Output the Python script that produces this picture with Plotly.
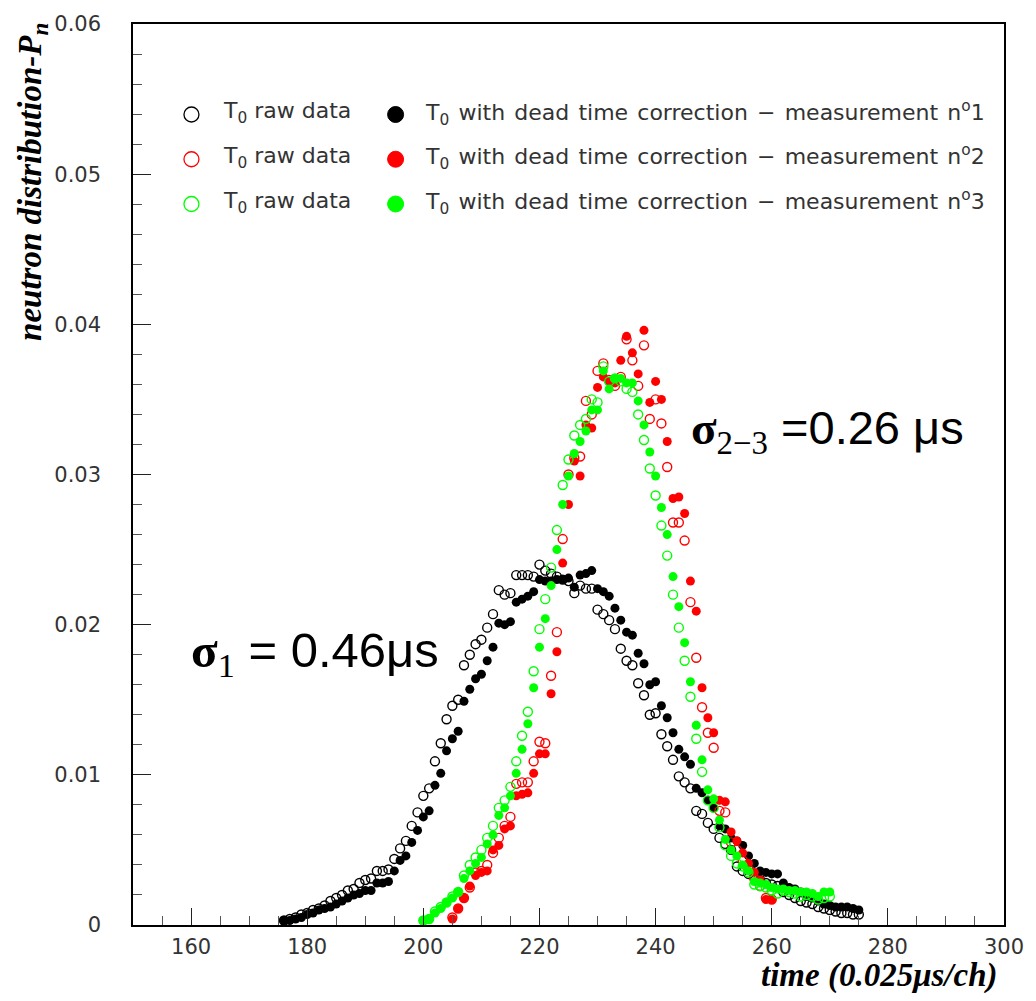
import plotly.graph_objects as go

# ---------------- data ----------------
black_start = 176
black_raw = [.0003, .0004, .0005, .0007, .0008, .0010, .0011, .0013, .0016, .0018,
             .0020, .0023, .0024, .0028, .0030, .0031, .0036, .0036, .0037, .0044,
             .0051, .0056, .0066, .0075, .0086, .0091, .0109, .0121, .0137, .0146,
             .0150, .0173, .0180, .0187, .0190, .0198, .0207, .0223, .0220, .0221,
             .0233, .0233, .0233, .0232, .0240, .0236, .0234, .0232, .0230, .0229,
             .0221, .0226, .0224, .0224, .0210, .0207, .0203, .0197, .0184, .0176,
             .0173, .0161, .0153, .0140, .0141, .0127, .0119, .0110, .0099, .0095,
             .0091, .0076, .0074, .0068, .0064, .0058, .0054, .0050, .0039, .0036,
             .0034, .0032, .0030, .0028, .0027, .0026, .0022, .0020, .0018, .0016,
             .0015, .0014, .0012, .0011, .0010, .0009, .0008, .0008, .0007, .0007]
black_corr = [.0003, .0003, .0004, .0005, .0007, .0008, .0010, .0011, .0012, .0014,
              .0016, .0018, .0020, .0021, .0023, .0023, .0028, .0028, .0029, .0036,
              .0043, .0046, .0055, .0063, .0072, .0076, .0093, .0101, .0116, .0124,
              .0129, .0149, .0157, .0164, .0167, .0176, .0185, .0201, .0200, .0202,
              .0215, .0217, .0219, .0222, .0230, .0229, .0229, .0230, .0230, .0231,
              .0225, .0233, .0234, .0236, .0224, .0222, .0219, .0211, .0203, .0195,
              .0193, .0181, .0174, .0160, .0162, .0146, .0138, .0128, .0117, .0112,
              .0107, .0091, .0088, .0083, .0078, .0066, .0064, .0058, .0056, .0053,
              .0046, .0041, .0036, .0035, .0034, .0034, .0028, .0025, .0024, .0022,
              .0019, .0018, .0016, .0014, .0013, .0012, .0012, .0012, .0011, .0010]

red_start = 205
red_raw = [.0005, .0011, .0018, .0025, .0035, .0036, .0040, .0048, .0058, .0066,
           .0072, .0094, .0095, .0095, .0109, .0122, .0121, .0166, .0195, .0257,
           .0300, .0311, .0312, .0349, .0340, .0369, .0374, .0363, .0359, .0365,
           .0390, .0376, .0359, .0386, .0337, .0350, .0334, .0305, .0268, .0268,
           .0256, .0215, .0178, .0145, .0128, .0118, .0076, .0075, .0055, .0050,
           .0043, .0037, .0031, .0026, .0018, .0017]
red_corr = [.0004, .0011, .0018, .0026, .0033, .0035, .0036, .0050, .0053, .0064,
            .0066, .0086, .0087, .0088, .0101, .0114, .0114, .0154, .0182, .0241,
            .0280, .0309, .0299, .0333, .0331, .0358, .0365, .0362, .0361, .0376,
            .0392, .0381, .0367, .0396, .0348, .0362, .0350, .0322, .0284, .0285,
            .0274, .0229, .0209, .0158, .0138, .0128, .0083, .0082, .0062, .0056,
            .0048, .0041, .0035, .0030, .0017, .0017]

green_start = 200
green_raw = [.0003, .0004, .0009, .0012, .0015, .0019, .0022, .0033, .0040, .0045,
             .0050, .0058, .0066, .0078, .0083, .0092, .0109, .0126, .0142, .0169,
             .0197, .0217, .0238, .0263, .0293, .0310, .0326, .0333, .0337, .0350,
             .0348, .0372, .0362, .0364, .0362, .0357, .0355, .0340, .0323, .0304,
             .0286, .0266, .0246, .0220, .0198, .0176, .0152, .0124, .0102, .0083,
             .0078, .0065, .0053, .0046, .0041, .0039, .0035, .0027, .0026, .0025,
             .0023, .0021, .0023, .0022, .0021, .0019, .0020, .0019, .0017, .0018,
             .0019]
green_corr = [.0003, .0004, .0008, .0011, .0015, .0018, .0022, .0031, .0036, .0041,
              .0045, .0054, .0060, .0073, .0078, .0086, .0101, .0117, .0134, .0158,
              .0185, .0204, .0226, .0250, .0280, .0299, .0314, .0322, .0329, .0343,
              .0343, .0369, .0357, .0364, .0364, .0361, .0361, .0349, .0333, .0315,
              .0299, .0278, .0260, .0232, .0212, .0188, .0162, .0133, .0110, .0090,
              .0084, .0070, .0057, .0050, .0046, .0040, .0036, .0029, .0028, .0027,
              .0025, .0024, .0024, .0023, .0023, .0022, .0022, .0021, .0019, .0022,
              .0022]

x_ticks = [160, 180, 200, 220, 240, 260, 280, 300]
raw_label = "T<sub>0</sub> raw data"
HS = "\u200a"  # hair space to widen word spacing like the reference font
corr_labels = [(f"T<sub>0</sub> with dead time correction − measurement n<sup>o</sup>{k}")
               .replace(" ", " " + HS) for k in (1, 2, 3)]
colors = ["#000000", "#ff0000", "#00ff00"]

# ---------------- figure ----------------
W, H = 1036, 1001
L, R, T, B = 133, 24, 19, 76
PW, PH = W - L - R, H - T - B

def px(xp):
    return (xp - L) / PW

def py(yp):
    return (H - B - yp) / PH

fig = go.Figure()
series = [(black_start, black_raw, black_corr), (red_start, red_raw, red_corr),
          (green_start, green_raw, green_corr)]
for (start, raw, corr), col in zip(series, colors):
    xs = list(range(start, start + len(raw)))
    fig.add_trace(go.Scatter(x=xs, y=raw, mode="markers",
                             marker=dict(symbol="circle-open", size=9, color=col,
                                         line=dict(width=1.4, color=col)),
                             showlegend=False, hoverinfo="x+y"))
    fig.add_trace(go.Scatter(x=xs, y=corr, mode="markers",
                             marker=dict(symbol="circle", size=9, color=col,
                                         line=dict(width=0)),
                             showlegend=False, hoverinfo="x+y"))

# legend drawn manually
shapes = []
annotations = []
legend_rows = [110, 155, 200]
tick_font = dict(family="DejaVu Sans, Liberation Sans, Arial", size=21, color="#333333")
leg_font = dict(family="DejaVu Sans, Liberation Sans, Arial", size=22, color="#333333")
for i, (row, col) in enumerate(zip(legend_rows, colors)):
    shapes.append(dict(type="circle", xref="paper", yref="paper",
                       xsizemode="pixel", ysizemode="pixel",
                       xanchor=px(192), yanchor=py(row), x0=-7.5, x1=7.5, y0=-7.5, y1=7.5,
                       line=dict(color=col, width=1.3), fillcolor="rgba(0,0,0,0)"))
    shapes.append(dict(type="circle", xref="paper", yref="paper",
                       xsizemode="pixel", ysizemode="pixel",
                       xanchor=px(398), yanchor=py(row), x0=-8, x1=8, y0=-8, y1=8,
                       line=dict(color=col, width=1), fillcolor=col))
    annotations.append(dict(text=raw_label, xref="paper", yref="paper",
                            x=px(222), y=py(row - 2), xanchor="left", yanchor="middle",
                            showarrow=False, font=leg_font))
    annotations.append(dict(text=corr_labels[i], xref="paper", yref="paper",
                            x=px(426), y=py(row - 2), xanchor="left", yanchor="middle",
                            showarrow=False, font=leg_font))

serif_b = "font-family:'Liberation Serif','Times New Roman',serif;font-weight:bold"
serif = "font-family:'Liberation Serif','Times New Roman',serif"
annotations.append(dict(
    text=f"<span style=\"{serif_b}\">σ</span><sub><span style=\"{serif}\">1</span></sub>\u00a0= 0.46μs",
    xref="paper", yref="paper", x=px(190), y=py(652), xanchor="left", yanchor="middle",
    showarrow=False, font=dict(family="Liberation Sans, Arial", size=49, color="#000")))
annotations.append(dict(
    text=f"<span style=\"{serif_b}\">σ</span><sub><span style=\"{serif}\">2−3</span></sub> =0.26 μs",
    xref="paper", yref="paper", x=px(694), y=py(428), xanchor="left", yanchor="middle",
    showarrow=False, font=dict(family="Liberation Sans, Arial", size=47, color="#000")))

title_font = dict(family="Liberation Serif, Times New Roman, serif", size=33, color="#000",
                  weight="bold", style="italic")
annotations.append(dict(text="time (0.025μs/ch)", xref="paper", yref="paper",
                        x=px(1008), y=py(976), xanchor="right", yanchor="middle",
                        showarrow=False, font=title_font))
annotations.append(dict(text="neutron distribution-P<sub>n</sub>", xref="paper", yref="paper",
                        x=px(31), y=py(16), xanchor="center", yanchor="top", textangle=-90,
                        showarrow=False, font=title_font))

fig.update_layout(
    width=W, height=H, margin=dict(l=L, r=R, t=T, b=B, pad=0),
    paper_bgcolor="white", plot_bgcolor="white",
    shapes=shapes, annotations=annotations, showlegend=False,
    xaxis=dict(range=[150, 300], tickvals=x_ticks, ticks="inside", ticklen=17,
               tickwidth=1.2, tickcolor="#222", showline=True, linecolor="#000",
               linewidth=1.5, mirror=True, showgrid=False, zeroline=False,
               tickfont=tick_font, ticklabelstandoff=2,
               minor=dict(dtick=5, tick0=150, ticks="inside", ticklen=9,
                          tickwidth=1.2, tickcolor="#555", showgrid=False)),
    yaxis=dict(range=[0, 0.06], dtick=0.01, tick0=0, ticks="inside", ticklen=18,
               tickwidth=1.2, tickcolor="#222", showline=True, linecolor="#000",
               linewidth=1.5, mirror=True, showgrid=False, zeroline=False,
               tickfont=tick_font, ticklabelstandoff=26,
               minor=dict(dtick=0.002, tick0=0, ticks="inside", ticklen=9,
                          tickwidth=1.2, tickcolor="#555", showgrid=False)),
)

fig.write_html("out.html")
